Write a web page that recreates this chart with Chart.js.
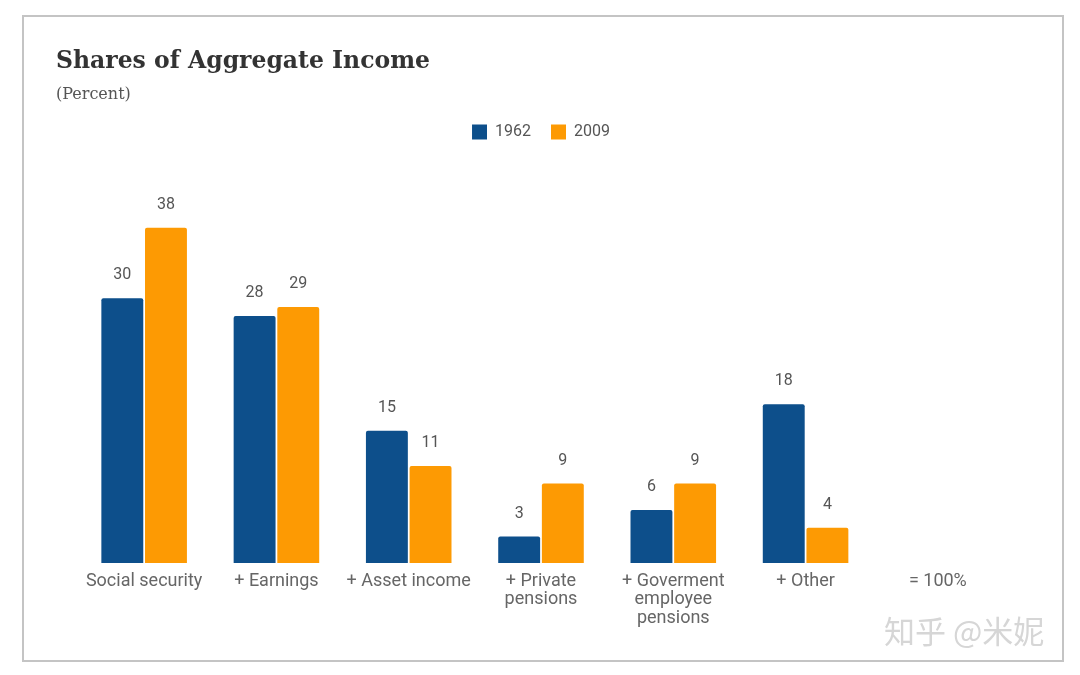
<!DOCTYPE html>
<html>
<head>
<meta charset="utf-8">
<script src="https://cdn.jsdelivr.net/npm/chart.js@4"></script>
<style>
  html, body { margin: 0; padding: 0; background: #fff; }
  #wrap { position: relative; width: 1080px; height: 675px; }
  #frame { position: absolute; left: 22px; top: 15px; width: 1038px; height: 643px; border: 2px solid #c4c4c4; box-sizing: content-box; pointer-events: none; }
  #title { position: absolute; left: 56px; top: 46px; font-family: "DejaVu Serif", serif; font-weight: bold; font-size: 23.5px; color: #333; white-space: nowrap; }
  #sub { position: absolute; left: 56px; top: 84px; font-family: "DejaVu Serif", serif; font-size: 16px; color: #555; white-space: nowrap; }
  #wm { position: absolute; left: 884px; top: 607px; font-family: "Noto Sans CJK SC", sans-serif; font-size: 31px; color: #d6d6d6; white-space: nowrap; }
  canvas { position: absolute; left: 0; top: 0; }
</style>
</head>
<body>
<div id="wrap">
  <canvas id="c" width="1080" height="675"></canvas>
  <div id="frame"></div>
  <div id="title">Shares of Aggregate Income</div>
  <div id="sub">(Percent)</div>
  <div id="wm">知乎 @米妮</div>
</div>
<script>
const categories = [
  "Social security",
  "+ Earnings",
  "+ Asset income",
  ["+ Private", "pensions"],
  ["+ Goverment", "employee", "pensions"],
  "+ Other",
  "= 100%"
];
const seriesNames = ["1962", "2009"];
const values1962 = [30, 28, 15, 3, 6, 18, null];
const values2009 = [38, 29, 11, 9, 9, 4, null];

const valueLabels = {
  id: 'valueLabels',
  afterDatasetsDraw(chart) {
    const ctx = chart.ctx;
    ctx.save();
    ctx.font = '16px Roboto';
    ctx.fillStyle = '#555';
    ctx.textAlign = 'center';
    ctx.textBaseline = 'middle';
    chart.data.datasets.forEach((ds, i) => {
      const meta = chart.getDatasetMeta(i);
      meta.data.forEach((bar, j) => {
        const v = ds.data[j];
        if (v === null || v === undefined) return;
        ctx.fillText(String(v), bar.x, bar.y - 23);
      });
    });
    ctx.restore();
  }
};

new Chart(document.getElementById('c'), {
  type: 'bar',
  data: {
    labels: categories,
    datasets: [
      { label: seriesNames[0], data: values1962, backgroundColor: '#0d4f8b',
        borderRadius: { topLeft: 2, topRight: 2 }, borderSkipped: 'bottom',
        categoryPercentage: 0.66, barPercentage: 0.96 },
      { label: seriesNames[1], data: values2009, backgroundColor: '#fd9a03',
        borderRadius: { topLeft: 2, topRight: 2 }, borderSkipped: 'bottom',
        categoryPercentage: 0.66, barPercentage: 0.96 }
    ]
  },
  options: {
    responsive: false,
    animation: false,
    layout: { padding: { left: 78, right: 76, top: 104, bottom: 0 } },
    plugins: {
      legend: {
        display: true,
        position: 'top',
        labels: {
          boxWidth: 15, boxHeight: 15, padding: 20,
          color: '#555', font: { family: 'Roboto', size: 16 }
        }
      },
      tooltip: { enabled: false }
    },
    scales: {
      x: {
        grid: { display: false },
        border: { display: false },
        ticks: { color: '#666', font: { family: 'Roboto', size: 18, lineHeight: 1.03 }, padding: 1, maxRotation: 0, autoSkip: false },
        afterFit(s) { s.height = 112; }
      },
      y: {
        display: false,
        min: 0,
        max: 46.8
      }
    }
  },
  plugins: [valueLabels]
});
</script>
</body>
</html>
